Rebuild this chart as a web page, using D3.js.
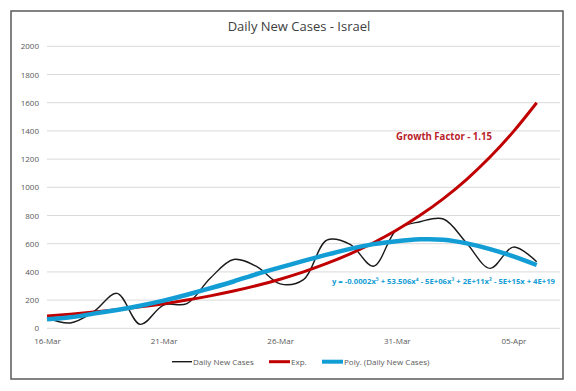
<!DOCTYPE html>
<html>
<head>
<meta charset="utf-8">
<script src="https://cdn.jsdelivr.net/npm/d3@7"></script>
<style>
  html, body { margin: 0; padding: 0; background: #fff; }
  svg { display: block; font-family: "Open Sans", "Liberation Sans", sans-serif; }
</style>
</head>
<body>
<svg id="chart" width="576" height="391"></svg>
<script>
// data
const dates = ["2020-03-16","2020-03-17","2020-03-18","2020-03-19","2020-03-20","2020-03-21","2020-03-22",
  "2020-03-23","2020-03-24","2020-03-25","2020-03-26","2020-03-27","2020-03-28","2020-03-29","2020-03-30",
  "2020-03-31","2020-04-01","2020-04-02","2020-04-03","2020-04-04","2020-04-05","2020-04-06"];
const dailyCases = [75, 38, 118, 248, 28, 165, 175, 355, 488, 437, 315, 345, 625, 595, 440, 700, 756, 775, 603, 425, 576, 472];
const expTrend = [87, 100, 115, 132, 152, 174, 200, 230, 264, 303, 348, 400, 460, 528, 607, 697, 801, 920, 1057, 1215, 1395, 1600];
const polyTrend = [64, 78, 104, 130, 160, 196, 238, 284, 332, 385, 432, 478, 522, 563, 597, 618, 631, 628, 602, 562, 510, 449];
const xTickLabels = ["16-Mar", "21-Mar", "26-Mar", "31-Mar", "05-Apr"];
const yTicks = [0, 200, 400, 600, 800, 1000, 1200, 1400, 1600, 1800, 2000];

const parse = d3.timeParse("%Y-%m-%d");
const days = dates.map(parse);

const svg = d3.select("#chart");

// outer frame
svg.append("rect")
  .attr("x", 11).attr("y", 11).attr("width", 552).attr("height", 368)
  .attr("fill", "#fff").attr("stroke", "#5a5a5a").attr("stroke-width", 1.5);

const x = d3.scaleTime()
  .domain([parse("2020-03-16"), parse("2020-04-07")])
  .range([47, 560]);
const y = d3.scaleLinear().domain([0, 2000]).range([328.3, 46.3]);

// title
svg.append("text")
  .attr("x", 299).attr("y", 31)
  .attr("text-anchor", "middle")
  .attr("font-size", 13).attr("fill", "#404040")
  .text("Daily New Cases - Israel");

// gridlines
svg.append("g").selectAll("line").data(yTicks).join("line")
  .attr("x1", 47).attr("x2", 560)
  .attr("y1", d => y(d)).attr("y2", d => y(d))
  .attr("stroke", "#d9d9d9").attr("stroke-width", 1);

// y axis labels
const yAxis = d3.axisLeft(y).tickValues(yTicks).tickSize(0).tickPadding(8).tickFormat(d3.format("d"));
const gy = svg.append("g").attr("transform", "translate(47,0)").call(yAxis);
gy.select(".domain").remove();
gy.selectAll("text").attr("font-size", 8).attr("fill", "#595959")
  .attr("font-family", "'Open Sans', sans-serif");

// x axis labels every 5 days
const tickDates = xTickLabels.map((t, i) => d3.timeDay.offset(parse("2020-03-16"), i * 5));
const xAxis = d3.axisBottom(x).tickValues(tickDates).tickSize(0).tickPadding(10)
  .tickFormat((d, i) => xTickLabels[i]);
const gx = svg.append("g").attr("transform", "translate(0,328.3)").call(xAxis);
gx.select(".domain").remove();
gx.selectAll("text").attr("font-size", 8).attr("fill", "#595959")
  .attr("font-family", "'Open Sans', sans-serif");

const line = (vals, curve) => d3.line()
  .x((d, i) => x(days[i]))
  .y(d => y(d))
  .curve(curve)(vals);

// series
svg.append("path").attr("d", line(dailyCases, d3.curveCatmullRom.alpha(0.5)))
  .attr("fill", "none").attr("stroke", "#1a1a1a").attr("stroke-width", 1.4);
svg.append("path").attr("d", line(expTrend, d3.curveNatural))
  .attr("fill", "none").attr("stroke", "#c00000").attr("stroke-width", 3);
svg.append("path").attr("d", line(polyTrend, d3.curveNatural))
  .attr("fill", "none").attr("stroke", "#139dd5").attr("stroke-width", 4.5);

// annotations
svg.append("text")
  .attr("x", 444).attr("y", 140)
  .attr("text-anchor", "middle")
  .attr("font-size", 10.5).attr("font-weight", "bold").attr("fill", "#b8232a")
  .attr("textLength", 96).attr("lengthAdjust", "spacingAndGlyphs")
  .text("Growth Factor - 1.15");

svg.append("text")
  .attr("x", 332).attr("y", 283.5)
  .attr("font-size", 7.5).attr("font-weight", "bold").attr("fill", "#139dd5")
  .attr("textLength", 223).attr("lengthAdjust", "spacingAndGlyphs")
  .text("y = -0.0002x\u2075 + 53.506x\u2074 - 5E+06x\u00B3 + 2E+11x\u00B2 - 5E+15x + 4E+19");

// legend
const legend = [
  { label: "Daily New Cases", color: "#1a1a1a", w: 1.4, x0: 172, x1: 192 },
  { label: "Exp.", color: "#c00000", w: 3, x0: 269, x1: 290 },
  { label: "Poly. (Daily New Cases)", color: "#139dd5", w: 4, x0: 322, x1: 343 }
];
const lg = svg.append("g").selectAll("g").data(legend).join("g");
lg.append("line")
  .attr("x1", d => d.x0).attr("x2", d => d.x1)
  .attr("y1", 361.7).attr("y2", 361.7)
  .attr("stroke", d => d.color).attr("stroke-width", d => d.w);
lg.append("text")
  .attr("x", d => d.x1 + 1).attr("y", 364.5)
  .attr("font-size", 8).attr("fill", "#595959")
  .text(d => d.label);
</script>
</body>
</html>
